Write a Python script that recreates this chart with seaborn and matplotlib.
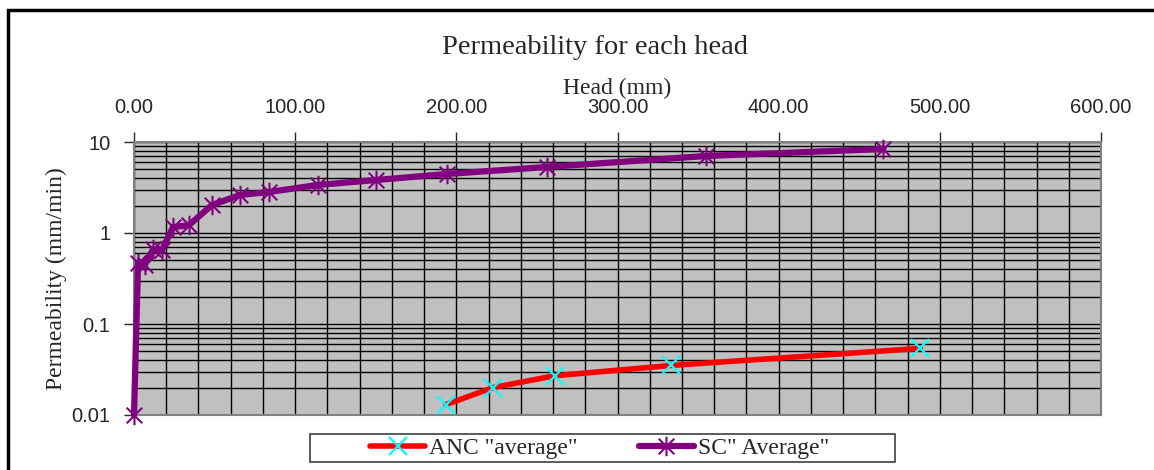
import pandas as pd
import matplotlib.pyplot as plt
import matplotlib.ticker as mticker
from matplotlib.patches import Rectangle
from matplotlib.path import Path
import seaborn as sns

# values
head_anc = [193.5, 222.7, 261.0, 333.0, 488.0]
perm_anc = [0.013, 0.020, 0.027, 0.035, 0.054]

head_sc = [0, 2.5, 6.8, 11.8, 17.4, 24.2, 34.1, 48.4, 65.8, 83.7, 114, 150, 194, 256, 355, 465]
perm_sc = [0.01, 0.47, 0.45, 0.66, 0.65, 1.16, 1.22, 2.03, 2.62, 2.82, 3.37, 3.82, 4.45, 5.31, 7.02, 8.38]

x_ticks = [0, 100, 200, 300, 400, 500, 600]
y_ticks = [0.01, 0.1, 1, 10]
y_labels = ["0.01", "0.1", "1", "10"]

df_anc = pd.DataFrame({"head": head_anc, "perm": perm_anc})
df_sc = pd.DataFrame({"head": head_sc, "perm": perm_sc})

sns.set_style("white")
plt.rcParams["font.family"] = ["Liberation Sans", "DejaVu Sans"]
serif = ["Liberation Serif", "DejaVu Serif"]

# excel style star: X with a vertical bar
star = Path([(0, -1), (0, 1), (-0.8, -0.8), (0.8, 0.8), (-0.8, 0.8), (0.8, -0.8)],
            [Path.MOVETO, Path.LINETO, Path.MOVETO, Path.LINETO, Path.MOVETO, Path.LINETO])

fig = plt.figure(figsize=(11.54, 4.70), dpi=100)
ax = fig.add_axes([134 / 1154, 1 - 415 / 470, (1101 - 134) / 1154, (415 - 142) / 470])
ax.set_facecolor("#C0C0C0")

sns.lineplot(data=df_anc, x="head", y="perm", ax=ax, color="red", linewidth=4,
             marker="x", markersize=13, markeredgecolor="cyan", markeredgewidth=1.6,
             sort=False, label='ANC "average"', clip_on=False, zorder=3)
sns.lineplot(data=df_sc, x="head", y="perm", ax=ax, color="purple", linewidth=4.5,
             marker=star, markersize=14, markeredgecolor="purple", markerfacecolor="none",
             markeredgewidth=1.5, sort=False, label='SC" Average"', clip_on=False, zorder=3)

ax.set_yscale("log")
ax.set_xlim(0, 600)
ax.set_ylim(0.01, 10)

ax.xaxis.tick_top()
ax.xaxis.set_label_position("top")
ax.set_xticks(x_ticks)
ax.xaxis.set_major_formatter(mticker.FuncFormatter(lambda v, p: f"{v:.2f}"))
ax.xaxis.set_minor_locator(mticker.MultipleLocator(20))
ax.set_yticks(y_ticks)
ax.set_yticklabels(y_labels)
ax.yaxis.set_minor_locator(mticker.LogLocator(base=10, subs=range(2, 10)))
ax.yaxis.set_minor_formatter(mticker.NullFormatter())

ax.tick_params(axis="x", which="major", direction="out", length=7, width=1,
               labelsize=14.5, pad=11, top=True, bottom=False)
ax.tick_params(axis="y", which="major", direction="out", length=7, width=1,
               labelsize=14.5, pad=10, left=True)
ax.tick_params(which="minor", length=0)

ax.grid(True, which="both", color="black", linewidth=1)
ax.set_axisbelow(True)
for s in ax.spines.values():
    s.set_color("#808080")
    s.set_linewidth(1.5)

ax.set_xlabel("Head (mm)", fontsize=17, family=serif, labelpad=3)
ax.set_ylabel("Permeability (mm/min)", fontsize=17, family=serif, labelpad=3)
fig.text(595 / 1154, 1 - 48 / 470, "Permeability for each head", fontsize=20.5,
         family=serif, ha="center", va="center")

ax.get_legend().remove()
handles, labels = ax.get_legend_handles_labels()
fig.legend(handles, labels, loc="center", bbox_to_anchor=(600 / 1154, 1 - 448 / 470),
           ncol=2, frameon=False, prop={"family": serif, "size": 17},
           handlelength=2.3, handletextpad=0.2, columnspacing=2.6, borderpad=0,
           borderaxespad=0)
fig.patches.append(Rectangle((310 / 1154, 1 - 462 / 470), 585 / 1154, 28 / 470,
                             transform=fig.transFigure, fill=False,
                             edgecolor="#404040", linewidth=1.2))

fig.patches.append(Rectangle((8 / 1154, -0.05), 1.1, 1 - 10 / 470 + 0.05,
                             transform=fig.transFigure, fill=False,
                             edgecolor="black", linewidth=2.5))

plt.savefig("out.png", dpi=100)
